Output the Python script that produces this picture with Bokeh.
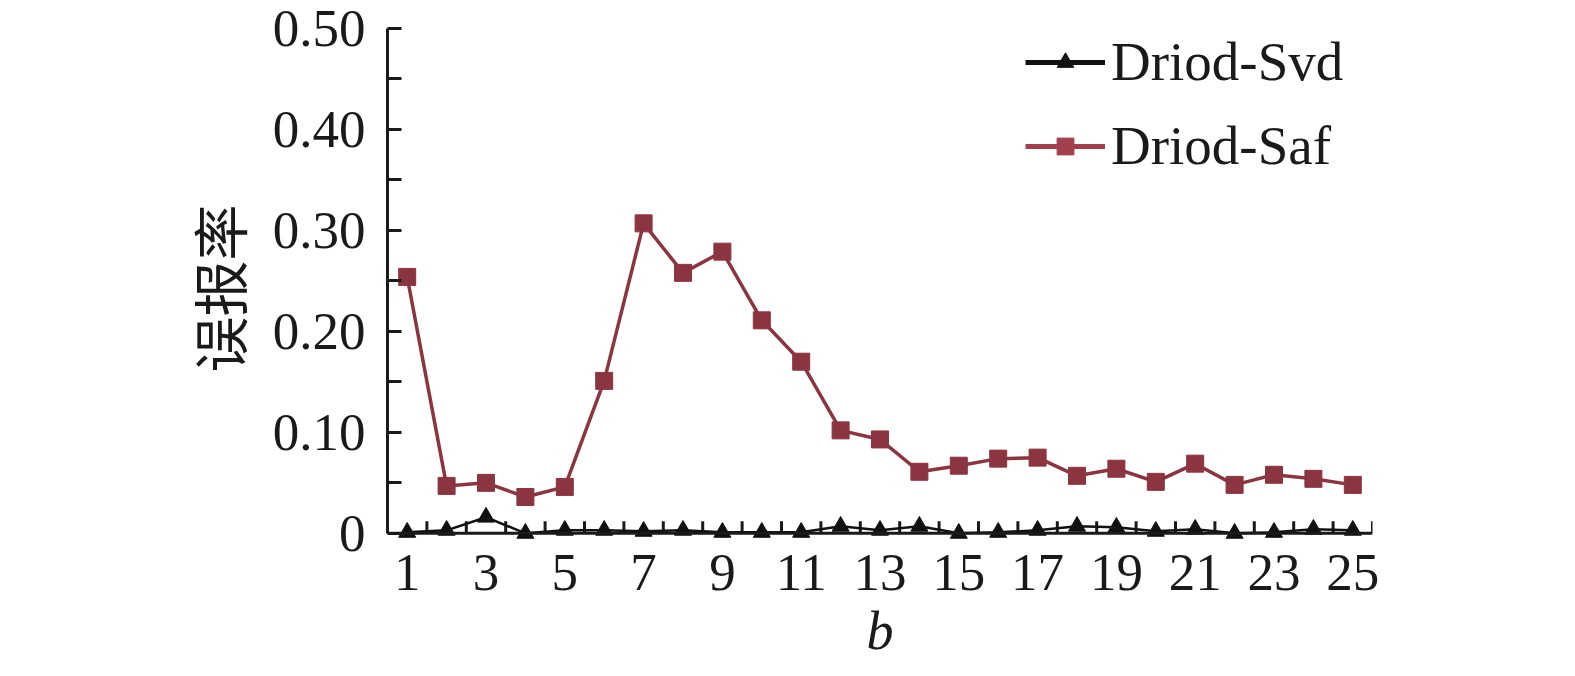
from bokeh.plotting import figure
from bokeh.models import FixedTicker, Range1d, Legend, LegendItem, CustomJSTickFormatter, Span
from bokeh.embed import file_html
from bokeh.resources import INLINE

# ---- data ----
b = list(range(1, 26))
svd = [0.001, 0.003, 0.016, 0.000, 0.003, 0.003, 0.002, 0.003, 0.001, 0.001,
       0.001, 0.007, 0.003, 0.007, 0.000, 0.001, 0.003, 0.007, 0.006, 0.002,
       0.004, 0.000, 0.001, 0.004, 0.003]
saf = [0.254, 0.047, 0.050, 0.036, 0.046, 0.151, 0.307, 0.258, 0.279, 0.211,
       0.170, 0.102, 0.093, 0.061, 0.067, 0.074, 0.075, 0.057, 0.064, 0.051,
       0.069, 0.048, 0.058, 0.054, 0.048]
x_tick_labels = [1, 3, 5, 7, 9, 11, 13, 15, 17, 19, 21, 23, 25]
y_ticks = [0, 0.1, 0.2, 0.3, 0.4, 0.5]
y_minor = [0.05, 0.15, 0.25, 0.35, 0.45]
series_names = ["Driod-Svd", "Driod-Saf"]
x_title = "b"
y_title = "误报率"

SAF_C = "#8b3541"
SAF_LEG = "#a3404d"
SVD_C = "#111111"
AX_C = "#1a1a1a"
SERIF = "Liberation Serif"

W, H = 1559, 673
BL, BR, BT, BB = 387, 187, 28, 125
Y0, Y1 = -0.015, 0.5

p = figure(width=W, height=H,
           x_range=Range1d(0.5, 25.5), y_range=Range1d(Y0, Y1),
           output_backend="svg", toolbar_location=None,
           min_border_left=BL, min_border_right=BR,
           min_border_top=BT, min_border_bottom=BB)
p.outline_line_color = None
p.grid.visible = False
p.background_fill_color = "white"
p.border_fill_color = "white"

# x axis: labels only; the axis line sits at y = 0
xa = p.xaxis[0]
xa.ticker = FixedTicker(ticks=x_tick_labels)
xa.axis_line_color = None
xa.major_tick_line_color = None
xa.minor_tick_line_color = None
xa.major_tick_in = 0
xa.major_tick_out = 0
xa.major_label_text_font = SERIF
xa.major_label_text_font_size = "53px"
xa.major_label_text_color = AX_C
xa.major_label_standoff = 6
xa.axis_label = x_title
xa.axis_label_text_font = SERIF
xa.axis_label_text_font_style = "italic"
xa.axis_label_text_font_size = "54px"
xa.axis_label_text_color = AX_C
xa.axis_label_standoff = 8

p.add_layout(Span(location=0, dimension="width", line_color=AX_C, line_width=3))
# inward tick marks between categories, 12 px tall
px_per_unit = (H - BT - BB) / (Y1 - Y0)
tick_len = 12 / px_per_unit
half_ticks = [v - 0.5 for v in b] + [b[-1] + 0.5]
p.segment(x0=half_ticks, y0=[0] * len(half_ticks), x1=half_ticks,
          y1=[tick_len] * len(half_ticks), line_color=AX_C, line_width=3)

# y axis
ya = p.yaxis[0]
ya.bounds = (0, 0.5)
ya.ticker = FixedTicker(ticks=y_ticks, minor_ticks=y_minor)
ya.formatter = CustomJSTickFormatter(code="return tick == 0 ? '0' : tick.toFixed(2)")
ya.axis_line_width = 3
ya.axis_line_color = AX_C
ya.major_tick_in = 14
ya.major_tick_out = 0
ya.minor_tick_in = 14
ya.minor_tick_out = 0
ya.major_tick_line_width = 3
ya.minor_tick_line_width = 3
ya.major_tick_line_color = AX_C
ya.minor_tick_line_color = AX_C
ya.major_label_text_font = SERIF
ya.major_label_text_font_size = "53px"
ya.major_label_text_color = AX_C
ya.major_label_standoff = 22
ya.axis_label = y_title
ya.axis_label_text_font = "Noto Sans CJK SC"
ya.axis_label_text_font_style = "normal"
ya.axis_label_text_font_size = "56px"
ya.axis_label_text_color = AX_C
ya.axis_label_standoff = 12

# series
p.line(b, saf, line_color=SAF_C, line_width=3.5)
p.scatter(b, saf, marker="square", size=17, fill_color=SAF_C, line_color=SAF_C)
p.line(b, svd, line_color=SVD_C, line_width=2.5)
p.scatter(b, svd, marker="triangle", size=17, fill_color=SVD_C, line_color=SVD_C)

# legend-only renderers (NaN data, never drawn in the plot) with the legend's heavier styling
nan = float("nan")
leg_svd_l = p.line([nan], [nan], line_color=SVD_C, line_width=5)
leg_svd_m = p.scatter([nan], [nan], marker="triangle", fill_color=SVD_C, line_color=SVD_C)
leg_saf_l = p.line([nan], [nan], line_color=SAF_LEG, line_width=5)
leg_saf_m = p.scatter([nan], [nan], marker="square", fill_color=SAF_LEG, line_color=SAF_LEG)

legend = Legend(items=[LegendItem(label=series_names[0], renderers=[leg_svd_l, leg_svd_m]),
                       LegendItem(label=series_names[1], renderers=[leg_saf_l, leg_saf_m])],
                location=(638, 371), orientation="vertical",
                glyph_width=80, glyph_height=42, label_standoff=6,
                padding=0, margin=0, spacing=21,
                border_line_color=None, background_fill_alpha=0,
                label_text_font=SERIF, label_text_font_size="55px",
                label_text_color=AX_C)
p.add_layout(legend)

open("out.html", "w").write(file_html(p, INLINE))
